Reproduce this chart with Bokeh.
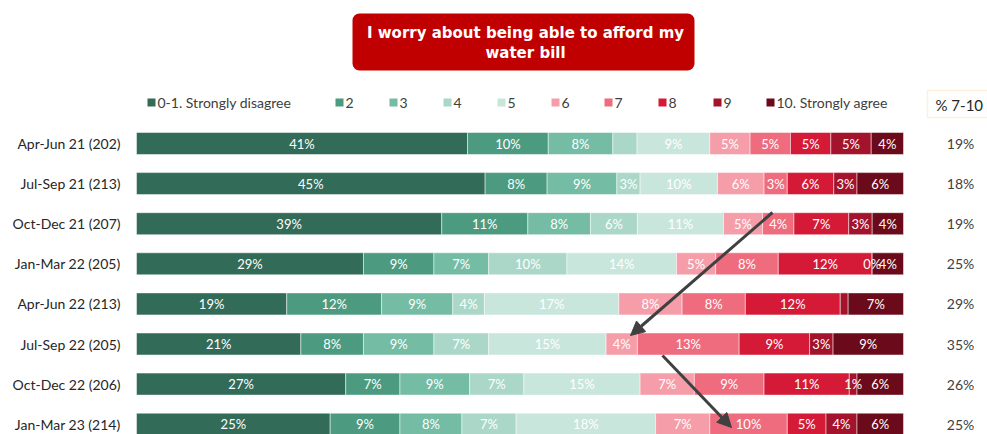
from bokeh.plotting import figure
from bokeh.models import Range1d, ColumnDataSource, Label, BoxAnnotation, Arrow, NormalHead
from bokeh.core.properties import value
from bokeh.embed import file_html
from bokeh.resources import INLINE

# ---------------- data ----------------
periods = ["Apr-Jun 21 (202)", "Jul-Sep 21 (213)", "Oct-Dec 21 (207)", "Jan-Mar 22 (205)",
           "Apr-Jun 22 (213)", "Jul-Sep 22 (205)", "Oct-Dec 22 (206)", "Jan-Mar 23 (214)"]
categories = ["0-1. Strongly disagree", "2", "3", "4", "5", "6", "7", "8", "9", "10. Strongly agree"]
score_0_1 = [41, 45, 39, 29, 19, 21, 27, 25]
score_2 = [10, 8, 11, 9, 12, 8, 7, 9]
score_3 = [8, 9, 8, 7, 9, 9, 9, 8]
score_4 = [3, 3, 6, 10, 4, 7, 7, 7]
score_5 = [9, 10, 11, 14, 17, 15, 15, 18]
score_6 = [5, 6, 5, 5, 8, 4, 7, 7]
score_7 = [5, 3, 4, 8, 8, 13, 9, 10]
score_8 = [5, 6, 7, 12, 12, 9, 11, 5]
score_9 = [5, 3, 3, 0, 1, 3, 1, 4]
score_10 = [4, 6, 4, 4, 7, 9, 6, 6]
pct_7_10 = [19, 18, 19, 25, 29, 35, 26, 25]
hidden_labels = [(0, 3), (4, 8)]  # (row, category) segments drawn without a label

series = [score_0_1, score_2, score_3, score_4, score_5, score_6, score_7, score_8, score_9, score_10]
colors = ["#336B59", "#4C9B80", "#74BCA4", "#AAD7C8", "#C9E6DC",
          "#F59DA9", "#EE6C7E", "#D41A36", "#A3132B", "#6B0A1B"]

# ---------------- layout ----------------
W, H = 987, 434
PAGE_OFF = 0
BAR_L, BAR_R = 136, 903           # page px of 0% and 100%
ROW0_Y, ROW_DY, BAR_H = 143, 40.1, 22

def sx(px):
    return px - PAGE_OFF

def sy(py):
    return H + PAGE_OFF - py

kx = (BAR_R - BAR_L) / 100.0
x_start = (PAGE_OFF - BAR_L) / kx
x_end = 100 + (PAGE_OFF + W - BAR_R) / kx
y_top = (PAGE_OFF - ROW0_Y) / ROW_DY
y_bot = (PAGE_OFF + H - ROW0_Y) / ROW_DY

p = figure(width=W, height=H, x_range=Range1d(x_start, x_end), y_range=Range1d(y_bot, y_top),
           output_backend="svg", toolbar_location=None, min_border=0,
           x_axis_location=None, y_axis_location=None)
p.grid.visible = False
p.outline_line_color = None
p.background_fill_color = "white"

FONT = "Lato"
rows = list(range(len(periods)))
totals = [sum(s[i] for s in series) for i in rows]

cum = [0.0] * len(rows)
label_sources = []
for ci, s in enumerate(series):
    lefts, rights, mids, labels = [], [], [], []
    for i in rows:
        share = 100.0 * s[i] / totals[i]
        lefts.append(cum[i])
        rights.append(cum[i] + share)
        mids.append(cum[i] + share / 2)
        labels.append("" if (i, ci) in hidden_labels else f"{s[i]}%")
        cum[i] += share
    src = ColumnDataSource(dict(y=rows, left=lefts, right=rights, mid=mids, label=labels))
    p.hbar(y="y", left="left", right="right", height=BAR_H / ROW_DY, source=src,
           fill_color=colors[ci], line_color="white", line_alpha=0.6, line_width=0.8)
    label_sources.append(src)

for src in label_sources:
    p.text(x="mid", y="y", text="label", source=src, text_color="white",
           text_font=value(FONT), text_font_size="13px", text_align="center",
           text_baseline="middle")

# row labels
lab_src = ColumnDataSource(dict(y=rows, x=[0] * len(rows), t=periods))
p.text(x="x", y="y", text="t", source=lab_src, x_offset=-(BAR_L - 120),
       text_align="right", text_baseline="middle", text_color="#262626",
       text_font=value(FONT), text_font_size="14px")

# % 7-10 column
pc_src = ColumnDataSource(dict(y=rows, x=[100] * len(rows), t=[f"{v}%" for v in pct_7_10]))
p.text(x="x", y="y", text="t", source=pc_src, x_offset=960 - BAR_R,
       text_align="center", text_baseline="middle", text_color="#404040",
       text_font=value(FONT), text_font_size="14px")

# title box
p.add_layout(BoxAnnotation(left=sx(352), right=sx(694), top=sy(13), bottom=sy(70),
                           left_units="screen", right_units="screen",
                           top_units="screen", bottom_units="screen",
                           fill_color="#C00000", fill_alpha=1, line_color=None,
                           border_radius=7))
for txt, py in [("I worry about being able to afford my", 32), ("water bill", 52)]:
    p.add_layout(Label(x=sx(525), y=sy(py), x_units="screen", y_units="screen", text=txt,
                       text_align="center", text_baseline="middle", text_color="white",
                       text_font="DejaVu Sans", text_font_style="bold", text_font_size="15px"))

# legend
leg_sq_x = [147, 335, 389, 443, 497, 551, 604, 658, 713, 766]
LEG_Y = 102
for ci, name in enumerate(categories):
    x0 = leg_sq_x[ci]
    p.add_layout(BoxAnnotation(left=sx(x0), right=sx(x0 + 8), top=sy(LEG_Y - 4), bottom=sy(LEG_Y + 4),
                               left_units="screen", right_units="screen",
                               top_units="screen", bottom_units="screen",
                               fill_color=colors[ci], fill_alpha=1, line_color=None))
    p.add_layout(Label(x=sx(x0 + 10), y=sy(LEG_Y), x_units="screen", y_units="screen", text=name,
                       text_align="left", text_baseline="middle", text_color="#404040",
                       text_font=FONT, text_font_size="14px"))

# % 7-10 header box
p.add_layout(BoxAnnotation(left=sx(927), right=sx(996), top=sy(90), bottom=sy(117),
                           left_units="screen", right_units="screen",
                           top_units="screen", bottom_units="screen",
                           fill_color="white", fill_alpha=1, line_color="#F9D18A", line_width=1.5))
p.add_layout(Label(x=sx(935), y=sy(104), x_units="screen", y_units="screen", text="% 7-10",
                   text_align="left", text_baseline="middle", text_color="#262626",
                   text_font=FONT, text_font_size="15px"))

# annotation arrows
for (x1, y1, x2, y2) in [(772, 212, 630, 335), (662, 355, 731, 427)]:
    p.add_layout(Arrow(end=NormalHead(size=14, fill_color="#404040", line_color="#404040"),
                       x_start=sx(x1), y_start=sy(y1), x_end=sx(x2), y_end=sy(y2),
                       start_units="screen", end_units="screen",
                       line_color="#404040", line_width=3))

open("out.html", "w").write(file_html(p, INLINE))
